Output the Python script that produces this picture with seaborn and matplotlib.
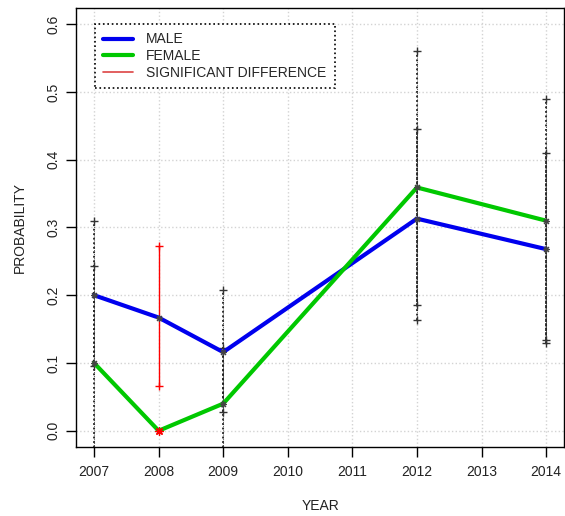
import numpy as np
import pandas as pd
import seaborn as sns
import matplotlib
matplotlib.use("Agg")
import matplotlib.pyplot as plt
from matplotlib.lines import Line2D

years = [2007, 2008, 2009, 2012, 2014]
male = [0.200, 0.167, 0.116, 0.313, 0.268]
female = [0.100, 0.000, 0.040, 0.359, 0.310]

# confidence intervals (black dotted bars)
ci_years = [2007, 2007, 2009, 2009, 2012, 2012, 2014, 2014]
ci_low = [0.095, -0.045, 0.028, -0.045, 0.164, 0.186, 0.134, 0.129]
ci_high = [0.310, 0.243, 0.207, 0.122, 0.446, 0.561, 0.410, 0.490]

# significant difference (red bar)
sig_year = [2008]
sig_low = [0.066]
sig_high = [0.272]

sns.set_style("white")
plt.rcParams["font.family"] = ["Liberation Sans", "DejaVu Sans"]

df = pd.DataFrame({"year": years * 2, "prob": male + female,
                   "sex": ["MALE"] * len(years) + ["FEMALE"] * len(years)})

fig = plt.figure(figsize=(5.65, 5.16), dpi=100)
ax = fig.add_axes([0.1345, 0.1337, 0.864, 0.851])

ax.set_xlim(2006.72, 2014.28)
ax.set_ylim(-0.024, 0.624)
ax.set_xticks(range(2007, 2015))
ax.set_yticks(np.arange(0, 0.61, 0.1))
ax.grid(True, color="#d3d3d3", linestyle=":", linewidth=1)

# error bars: draw twice with shifted dash phase so overlaps look heavier
ax.vlines(ci_years, ci_low, ci_high, colors="#222222", linestyles=(0, (1, 1.5)), linewidth=1.3, zorder=3)
ax.vlines(ci_years, ci_low, ci_high, colors="#222222", linestyles=(1.2, (1, 1.5)), linewidth=0.6, zorder=3)
ax.plot(ci_years, ci_low, "+", color="#333333", ms=6, zorder=3)
ax.plot(ci_years, ci_high, "+", color="#333333", ms=6, zorder=3)
ax.vlines(sig_year, sig_low, sig_high, colors="red", linewidth=1, zorder=3)
ax.plot(sig_year, sig_low, "+", color="red", ms=6, zorder=3)
ax.plot(sig_year, sig_high, "+", color="red", ms=6, zorder=3)

sns.lineplot(data=df, x="year", y="prob", hue="sex",
             palette={"MALE": "#0000ee", "FEMALE": "#00c800"},
             linewidth=3, legend=False, ax=ax, zorder=4)

ax.plot(years, male, linestyle="none", marker=(8, 2, 0), color="#444444", ms=5, mew=0.8, zorder=5)
ax.plot(years, female, linestyle="none", marker=(8, 2, 0), color="#444444", ms=5, mew=0.8, zorder=5)
ax.plot([2008], [0.0], linestyle="none", marker=(8, 2, 0), color="red", ms=6, mew=0.9, zorder=6)

for s in ax.spines.values():
    s.set_visible(True)
    s.set_color("black")
    s.set_linewidth(1)

ax.tick_params(axis="both", which="major", direction="out", length=7, width=1,
               color="black", labelsize=10, labelcolor="#222222", bottom=True, left=True)
ax.tick_params(axis="x", pad=6)
ax.tick_params(axis="y", pad=4)
ax.set_yticklabels(["0.0", "0.1", "0.2", "0.3", "0.4", "0.5", "0.6"], rotation=90, va="center")

ax.set_xlabel("YEAR", fontsize=10, color="#222222", labelpad=14)
ax.set_ylabel("PROBABILITY", fontsize=10, color="#222222", labelpad=14)

handles = [Line2D([], [], color="#0000ee", lw=3),
           Line2D([], [], color="#00c800", lw=3),
           Line2D([], [], color="#dd4444", lw=1.2)]
leg = ax.legend(handles, ["MALE", "FEMALE", "SIGNIFICANT DIFFERENCE"],
                loc="upper left", bbox_to_anchor=(0.038, 0.963), fontsize=10,
                fancybox=False, framealpha=1, edgecolor="black",
                handlelength=2.2, borderpad=0.6, labelspacing=0.2, handletextpad=0.9,
                borderaxespad=0)
leg.get_frame().set_linestyle(":")
leg.get_frame().set_linewidth(1.2)

fig.savefig("out.png", dpi=100)
